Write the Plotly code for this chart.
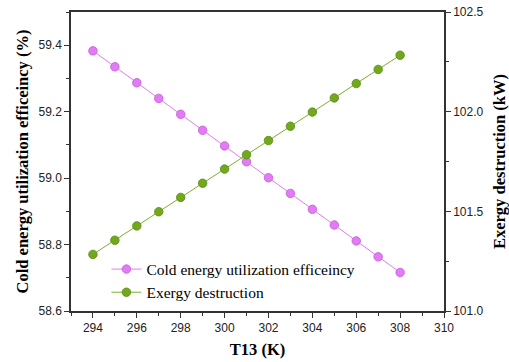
import plotly.graph_objects as go

t13 = [294, 295, 296, 297, 298, 299, 300, 301, 302, 303, 304, 305, 306, 307, 308]
cold_eff = [59.383, 59.335, 59.287, 59.240, 59.192, 59.144, 59.097, 59.049,
            59.001, 58.954, 58.906, 58.859, 58.811, 58.763, 58.716]
exergy = [101.284, 101.355, 101.427, 101.498, 101.570, 101.641, 101.712, 101.784,
          101.855, 101.927, 101.998, 102.069, 102.141, 102.212, 102.283]

fig = go.Figure()
fig.add_trace(go.Scatter(
    x=t13, y=cold_eff, name="Cold energy utilization efficeincy",
    mode="lines+markers",
    line=dict(color="#E47CF2", width=1),
    marker=dict(size=8.5, color="#E27CF4", line=dict(color="#C658D8", width=0.8)),
))
fig.add_trace(go.Scatter(
    x=t13, y=exergy, name="Exergy destruction", yaxis="y2",
    mode="lines+markers",
    line=dict(color="#7EB02A", width=1),
    marker=dict(size=8.5, color="#72A81C", line=dict(color="#5A8A12", width=0.8)),
))

tickfont = dict(family="Liberation Sans, Arial", size=12, color="#222")
serif = "Liberation Serif, Times New Roman"

fig.update_layout(
    width=509, height=362,
    margin=dict(l=71, r=65, t=12, b=51),
    plot_bgcolor="white", paper_bgcolor="white",
    showlegend=True,
    legend=dict(x=0.095, y=0.005, xanchor="left", yanchor="bottom",
                bgcolor="rgba(0,0,0,0)",
                font=dict(family=serif, size=15.5, color="black"),
                tracegroupgap=0),
    xaxis=dict(
        range=[293, 310], tickmode="array", tickvals=list(range(294, 311, 2)),
        ticks="outside", ticklen=5, tickwidth=1, tickcolor="#333",
        minor=dict(ticks="outside", ticklen=3, dtick=1, tickcolor="#333"),
        showline=True, linecolor="#333", linewidth=1.5, mirror=True,
        showgrid=False, zeroline=False, automargin=False,
        tickfont=tickfont,
        title=dict(text="<b>T13 (K)</b>", font=dict(family=serif, size=16.5, color="black"), standoff=9),
    ),
    yaxis=dict(
        range=[58.6, 59.5], tickmode="array", tickvals=[58.6, 58.8, 59.0, 59.2, 59.4],
        ticktext=["58.6", "58.8", "59.0", "59.2", "59.4"],
        ticks="outside", ticklen=5, tickwidth=1, tickcolor="#333",
        minor=dict(ticks="outside", ticklen=3, dtick=0.1, tickcolor="#333"),
        showline=True, linecolor="#333", linewidth=1.5,
        showgrid=False, zeroline=False, automargin=False,
        tickfont=tickfont,
        title=dict(text="<b>Cold energy utilization efficeincy (%)</b>",
                   font=dict(family=serif, size=16.5, color="black"), standoff=6),
    ),
    yaxis2=dict(
        range=[101.0, 102.5], overlaying="y", side="right",
        tickmode="array", tickvals=[101.0, 101.5, 102.0, 102.5],
        ticktext=["101.0", "101.5", "102.0", "102.5"],
        ticks="outside", ticklen=5, tickwidth=1, tickcolor="#333",
        minor=dict(ticks="outside", ticklen=3, dtick=0.25, tickcolor="#333"),
        showline=True, linecolor="#333", linewidth=1.5,
        showgrid=False, zeroline=False, automargin=False,
        tickfont=tickfont,
        title=dict(text="<b>Exergy destruction (kW)</b>",
                   font=dict(family=serif, size=16.5, color="black"), standoff=14),
    ),
)

fig.write_html("out.html")
